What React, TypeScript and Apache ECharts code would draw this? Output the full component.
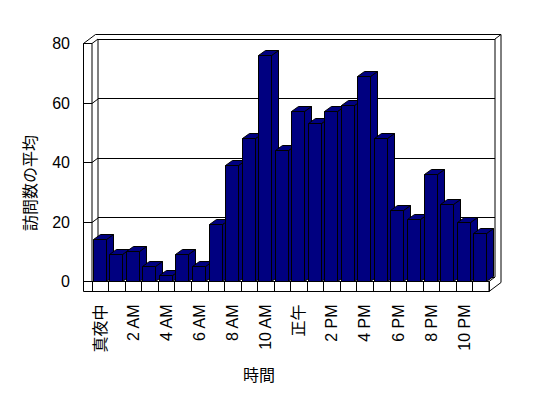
import React, { useEffect, useRef } from "react";
import * as echarts from "echarts";

const hours = [
  "真夜中", "1 AM", "2 AM", "3 AM", "4 AM", "5 AM", "6 AM", "7 AM", "8 AM", "9 AM", "10 AM", "11 AM",
  "正午", "1 PM", "2 PM", "3 PM", "4 PM", "5 PM", "6 PM", "7 PM", "8 PM", "9 PM", "10 PM", "11 PM",
];
const visits = [14, 9, 10, 5, 2, 9, 5, 19, 39, 48, 76, 44, 57, 53, 57, 59, 69, 48, 24, 21, 36, 26, 20, 16];
const yTicks = [0, 20, 40, 60, 80];
const yTitle = "訪問数の平均";
const xTitle = "時間";

const W = 548;
const H = 398;
const FL = 92;
const FR = 489;
const FT = 43.5;
const FB = 281.5;
const DX = 6;
const DY = 4.5;
const OUT_L = 83.5;
const FLOOR_B = 291.5;
const FONT = "'Liberation Sans', 'Noto Sans CJK JP', sans-serif";
const NAVY = "#000080";

const r5 = (v: number) => Math.round(v - 0.5) + 0.5;

const renderItem = (params: any, api: any) => {
  const i = api.value(0);
  const v = api.value(1);
  const top = api.coord([i, v]);
  const base = api.coord([i, 0]);
  const band = api.size([1, 0])[0];
  const x0 = r5(top[0] - band / 2 + band * 0.075);
  const x1 = r5(x0 + band * 0.8);
  const yt = r5(top[1]);
  const yb = r5(base[1]);
  const dx = Math.round(band * 0.4);
  const dy = 5;
  const style = { fill: NAVY, stroke: "#000", lineWidth: 1 };
  return {
    type: "group",
    children: [
      {
        type: "polygon",
        shape: { points: [[x1, yt], [x1 + dx, yt - dy], [x1 + dx, yb - dy], [x1, yb]] },
        style,
      },
      {
        type: "polygon",
        shape: { points: [[x0, yt], [x0 + dx, yt - dy], [x1 + dx, yt - dy], [x1, yt]] },
        style,
      },
      { type: "rect", shape: { x: x0, y: yt, width: x1 - x0, height: yb - yt }, style },
    ],
  };
};

export default function App() {
  const ref = useRef<HTMLDivElement>(null);
  useEffect(() => {
    const chart = echarts.init(ref.current!, null, { renderer: "svg" });
    chart.setOption({
      animation: false,
      backgroundColor: "#ffffff",
      textStyle: { fontFamily: FONT },
      grid: [
        { left: FL, right: W - FR, top: FT, bottom: H - FB, containLabel: false },
        { left: FL + DX, right: W - FR - DX, top: FT - DY, bottom: H - FB + DY, containLabel: false },
      ],
      xAxis: [
        {
          type: "category",
          gridIndex: 0,
          data: hours,
          boundaryGap: true,
          axisLine: { show: true, lineStyle: { color: "#000", width: 1 } },
          axisTick: { show: true, interval: 0, length: FLOOR_B - FB, lineStyle: { color: "#000", width: 1 } },
          axisLabel: { interval: 1, rotate: 90, margin: 23, fontSize: 16, color: "#000", fontFamily: FONT },
          splitLine: { show: false },
          z: 1,
        },
        { type: "category", gridIndex: 1, data: hours, show: false },
      ],
      yAxis: [
        {
          type: "value",
          gridIndex: 0,
          min: 0,
          max: 80,
          interval: 20,
          axisLine: { show: false },
          axisTick: { show: true, length: FL - OUT_L, lineStyle: { color: "#000", width: 1 } },
          axisLabel: { margin: 22, fontSize: 16, color: "#000", fontFamily: FONT },
          splitLine: { show: false },
        },
        {
          type: "value",
          gridIndex: 1,
          min: 0,
          max: 80,
          interval: 20,
          axisLine: { show: false },
          axisTick: { show: false },
          axisLabel: { show: false },
          splitLine: { show: true, lineStyle: { color: "#000", width: 1 } },
        },
      ],
      series: [
        {
          type: "custom",
          xAxisIndex: 0,
          yAxisIndex: 0,
          z: 5,
          renderItem,
          encode: { x: 0, y: 1 },
          data: visits.map((v, i) => [i, v]),
        },
      ],
    });

    const ln = (x1: number, y1: number, x2: number, y2: number) => ({
      type: "line",
      silent: true,
      z: 0,
      shape: { x1, y1, x2, y2 },
      style: { stroke: "#000", lineWidth: 1 },
    });
    const wallLines = yTicks
      .filter((t) => t > 0 && t < 80)
      .map((t) => {
        const p = chart.convertToPixel({ gridIndex: 0 }, [0, t]) as number[];
        const y = r5(p[1]);
        return ln(FL, y, FL + DX, y - DY);
      });

    chart.setOption({
      graphic: [
        ln(OUT_L, FT, OUT_L, FLOOR_B),
        ln(FL, FT, FL, FB),
        ln(OUT_L, FT, FL, FT),
        ln(OUT_L, FT, OUT_L + 2 * DX, FT - 2 * DY),
        ln(FL, FT, FL + DX, FT - DY),
        ln(OUT_L + 2 * DX, FT - 2 * DY, FR + 2 * DX, FT - 2 * DY),
        ln(FR + DX, FT - DY, FR + 2 * DX, FT - 2 * DY),
        ln(FR + DX, FT - DY, FR + DX, FB - DY),
        ln(FR + 2 * DX, FT - 2 * DY, FR + 2 * DX, FLOOR_B - 2 * DY),
        ln(FL + DX, FT - DY, FL + DX, FB - DY),
        ln(OUT_L, FLOOR_B, FR, FLOOR_B),
        ln(FR, FB, FR, FLOOR_B),
        ln(FR, FLOOR_B, FR + 2 * DX, FLOOR_B - 2 * DY),
        ln(FR, FB, FR + DX, FB - DY),
        ...wallLines,
        {
          type: "text",
          x: 259,
          y: 375,
          silent: true,
          style: {
            text: xTitle,
            fontSize: 16,
            fontFamily: FONT,
            fill: "#000",
            align: "center",
            verticalAlign: "middle",
          },
        },
        {
          type: "text",
          x: 30,
          y: 183,
          rotation: Math.PI / 2,
          silent: true,
          style: {
            text: yTitle,
            fontSize: 16,
            fontFamily: FONT,
            fill: "#000",
            align: "center",
            verticalAlign: "middle",
          },
        },
      ],
    });

    return () => chart.dispose();
  }, []);
  return <div ref={ref} style={{ position: "absolute", left: 0, top: 0, width: W, height: H }} />;
}
